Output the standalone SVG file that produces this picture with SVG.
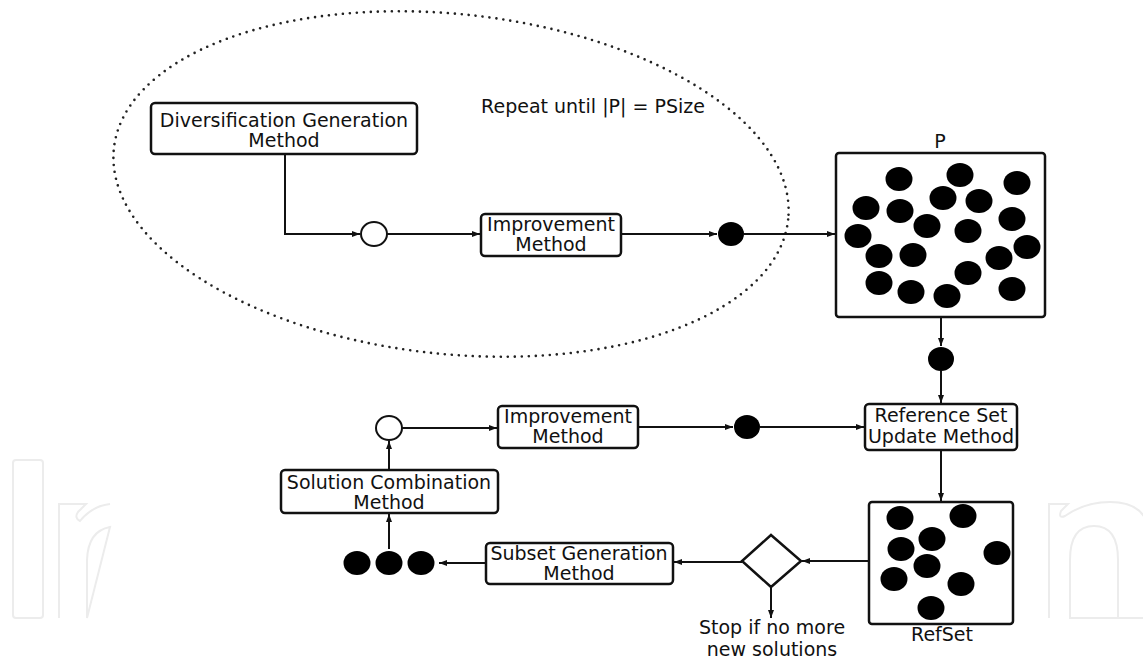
<svg xmlns="http://www.w3.org/2000/svg" width="1143" height="658" viewBox="0 0 1143 658">
<defs>
<style>
.box{fill:#fff;stroke:#111;stroke-width:2.5}
.lbl{font-family:"DejaVu Sans","Liberation Sans",sans-serif;font-size:19px;fill:#111;text-anchor:middle}
.con{fill:none;stroke:#111;stroke-width:2}
.dot{fill:#000}
.open{fill:#fff;stroke:#111;stroke-width:2}
.wm{fill:none;stroke:#ececec;stroke-width:2}
</style>
<marker id="ah" markerUnits="userSpaceOnUse" markerWidth="9" markerHeight="7" refX="8" refY="3" orient="auto">
<path d="M0,0 L8,3 L0,6 Z" fill="#111"/>
</marker>
</defs>
<rect width="1143" height="658" fill="#fff"/>

<g id="watermark">
<rect class="wm" x="13" y="460" width="30" height="158" rx="3"/>
<path class="wm" d="M59,618 V504 H86 L78,512 Q74,518 80,521 Q92,506 110,504 M110,527 Q88,531 87,560 V618 Z"/>
<path class="wm" d="M1049,618 V504 H1068 L1061,511 Q1058,519 1065,516 Q1085,502 1110,502 Q1150,502 1150,540 M1118,618 V560 Q1118,526 1094,526 Q1070,526 1070,560 V618 Z M1118,618 H1143"/>
</g>

<g id="loop">
<ellipse cx="451" cy="184" rx="339" ry="170" transform="rotate(6 451 184)" fill="none" stroke="#222" stroke-width="2.6" stroke-dasharray="0 7" stroke-linecap="round"/>
<text class="lbl" x="593" y="113">Repeat until |P| = PSize</text>
</g>

<g id="connectors">
<path class="con" d="M285,154 V234 H360" marker-end="url(#ah)"/>
<path class="con" d="M387,234 H480" marker-end="url(#ah)"/>
<path class="con" d="M621,234 H717" marker-end="url(#ah)"/>
<path class="con" d="M744,234 H835" marker-end="url(#ah)"/>
<path class="con" d="M941,317 V346" marker-end="url(#ah)"/>
<path class="con" d="M941,371 V403" marker-end="url(#ah)"/>
<path class="con" d="M402,428 H497" marker-end="url(#ah)"/>
<path class="con" d="M638,427 H733" marker-end="url(#ah)"/>
<path class="con" d="M760,427 H864" marker-end="url(#ah)"/>
<path class="con" d="M941,450 V501" marker-end="url(#ah)"/>
<path class="con" d="M869,561 H802" marker-end="url(#ah)"/>
<path class="con" d="M771,587 V618" marker-end="url(#ah)"/>
<path class="con" d="M742,562 H674" marker-end="url(#ah)"/>
<path class="con" d="M486,563 H439" marker-end="url(#ah)"/>
<path class="con" d="M389,549 V514" marker-end="url(#ah)"/>
<path class="con" d="M389,470 V441" marker-end="url(#ah)"/>
</g>

<g id="diversification">
<rect class="box" x="151" y="103" width="266" height="51" rx="4"/>
<text class="lbl" x="284" y="127">Diversification Generation</text>
<text class="lbl" x="284" y="147">Method</text>
</g>

<g id="circle1"><ellipse class="open" cx="374" cy="234" rx="13" ry="12"/></g>

<g id="improvement1">
<rect class="box" x="481" y="214" width="140" height="42" rx="4"/>
<text class="lbl" x="551" y="231">Improvement</text>
<text class="lbl" x="551" y="251">Method</text>
</g>

<g id="dot1"><ellipse class="dot" cx="731" cy="234" rx="13" ry="12"/></g>

<g id="P">
<rect class="box" x="836" y="153" width="209" height="164" rx="3"/>
<text class="lbl" x="940" y="148">P</text>
<g class="dot">
<ellipse cx="899" cy="179" rx="13.5" ry="12"/>
<ellipse cx="960" cy="175" rx="13.5" ry="12"/>
<ellipse cx="1017" cy="183" rx="13.5" ry="12"/>
<ellipse cx="866" cy="208" rx="13.5" ry="12"/>
<ellipse cx="900" cy="211" rx="13.5" ry="12"/>
<ellipse cx="943" cy="198" rx="13.5" ry="12"/>
<ellipse cx="979" cy="201" rx="13.5" ry="12"/>
<ellipse cx="1012" cy="219" rx="13.5" ry="12"/>
<ellipse cx="858" cy="236" rx="13.5" ry="12"/>
<ellipse cx="927" cy="226" rx="13.5" ry="12"/>
<ellipse cx="968" cy="231" rx="13.5" ry="12"/>
<ellipse cx="1027" cy="247" rx="13.5" ry="12"/>
<ellipse cx="879" cy="256" rx="13.5" ry="12"/>
<ellipse cx="913" cy="255" rx="13.5" ry="12"/>
<ellipse cx="999" cy="258" rx="13.5" ry="12"/>
<ellipse cx="968" cy="273" rx="13.5" ry="12"/>
<ellipse cx="879" cy="283" rx="13.5" ry="12"/>
<ellipse cx="911" cy="292" rx="13.5" ry="12"/>
<ellipse cx="947" cy="296" rx="13.5" ry="12"/>
<ellipse cx="1012" cy="289" rx="13.5" ry="12"/>
</g>
</g>

<g id="dot2"><ellipse class="dot" cx="941" cy="359" rx="13" ry="12"/></g>

<g id="refupdate">
<rect class="box" x="865" y="404" width="152" height="46" rx="4"/>
<text class="lbl" x="941" y="422">Reference Set</text>
<text class="lbl" x="941" y="443">Update Method</text>
</g>

<g id="circle2"><ellipse class="open" cx="389" cy="428" rx="13" ry="12"/></g>

<g id="improvement2">
<rect class="box" x="498" y="406" width="140" height="42" rx="4"/>
<text class="lbl" x="568" y="423">Improvement</text>
<text class="lbl" x="568" y="443">Method</text>
</g>

<g id="dot3"><ellipse class="dot" cx="747" cy="427" rx="13" ry="12"/></g>

<g id="combination">
<rect class="box" x="281" y="470" width="217" height="43" rx="4"/>
<text class="lbl" x="389" y="489">Solution Combination</text>
<text class="lbl" x="389" y="509">Method</text>
</g>

<g id="subsetdots" class="dot">
<ellipse cx="357" cy="563" rx="13.5" ry="12"/>
<ellipse cx="389" cy="563" rx="13.5" ry="12"/>
<ellipse cx="421" cy="563" rx="13.5" ry="12"/>
</g>

<g id="subset">
<rect class="box" x="486" y="543" width="187" height="41" rx="4"/>
<text class="lbl" x="579" y="560">Subset Generation</text>
<text class="lbl" x="579" y="580">Method</text>
</g>

<g id="decision">
<polygon points="771,535 801,561 771,587 742,561" fill="#fff" stroke="#111" stroke-width="2.5"/>
<text class="lbl" x="772" y="634">Stop if no more</text>
<text class="lbl" x="772" y="656">new solutions</text>
</g>

<g id="RefSet">
<rect class="box" x="869" y="502" width="144" height="122" rx="3"/>
<text class="lbl" x="942" y="641">RefSet</text>
<g class="dot">
<ellipse cx="900" cy="518" rx="13.5" ry="12"/>
<ellipse cx="963" cy="516" rx="13.5" ry="12"/>
<ellipse cx="932" cy="539" rx="13.5" ry="12"/>
<ellipse cx="901" cy="549" rx="13.5" ry="12"/>
<ellipse cx="997" cy="553" rx="13.5" ry="12"/>
<ellipse cx="927" cy="566" rx="13.5" ry="12"/>
<ellipse cx="894" cy="579" rx="13.5" ry="12"/>
<ellipse cx="961" cy="584" rx="13.5" ry="12"/>
<ellipse cx="931" cy="608" rx="13.5" ry="12"/>
</g>
</g>
</svg>
